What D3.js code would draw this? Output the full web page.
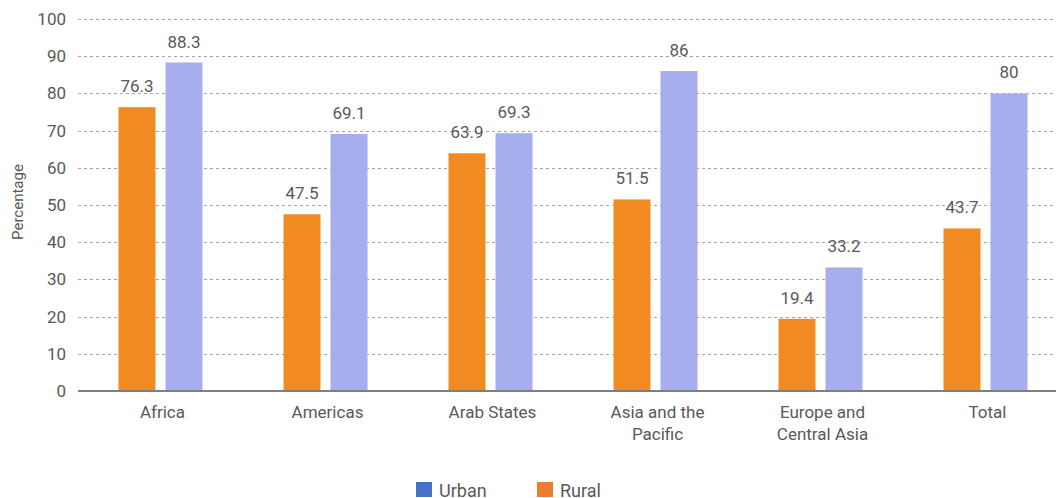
<!DOCTYPE html>
<html>
<head>
<meta charset="utf-8">
<script src="https://cdn.jsdelivr.net/npm/d3@7"></script>
<style>
  body { margin: 0; background: #fff; }
  svg text { font-family: Roboto, "Liberation Sans", sans-serif; fill: #595959; }
</style>
</head>
<body>
<svg id="chart" width="1056" height="498"></svg>
<script>
const categories = ["Africa", "Americas", "Arab States", "Asia and the Pacific", "Europe and Central Asia", "Total"];
const categoryLines = [["Africa"], ["Americas"], ["Arab States"], ["Asia and the", "Pacific"], ["Europe and", "Central Asia"], ["Total"]];
const rural = [76.3, 47.5, 63.9, 51.5, 19.4, 43.7];
const urban = [88.3, 69.1, 69.3, 86, 33.2, 80];
const yTicks = [0, 10, 20, 30, 40, 50, 60, 70, 80, 90, 100];
const seriesNames = ["Rural", "Urban"];
const barColors = { Rural: "#F28A22", Urban: "#A6AEEE" };
const legendItems = [
  { name: "Urban", color: "#4472C4" },
  { name: "Rural", color: "#ED7D31" }
];

var svg = d3.select("#chart");
var plotLeft = 78, plotRight = 1068, plotTop = 19, plotBottom = 391;

var x0 = d3.scaleBand()
  .domain(categories)
  .range([plotLeft, plotRight])
  .padding(0);

var x1 = d3.scaleBand()
  .domain(seriesNames)
  .range([(x0.bandwidth() - 84) / 2, (x0.bandwidth() + 84) / 2])
  .paddingInner(0.2128);

var y = d3.scaleLinear()
  .domain([0, 100])
  .range([plotBottom, plotTop]);

// gridlines
svg.append("g")
  .selectAll("line")
  .data(yTicks.filter(d => d > 0))
  .enter().append("line")
  .attr("x1", plotLeft)
  .attr("x2", 1056)
  .attr("y1", d => Math.round(y(d)) + 0.5)
  .attr("y2", d => Math.round(y(d)) + 0.5)
  .attr("stroke", "#A6A6A6")
  .attr("stroke-width", 1)
  .attr("stroke-dasharray", "3,3");

// y axis labels
var yAxis = svg.append("g")
  .attr("transform", "translate(" + plotLeft + ",0)")
  .call(d3.axisLeft(y).tickValues(yTicks).tickSize(0).tickPadding(12));
yAxis.select(".domain").remove();
yAxis.selectAll("text")
  .style("font-size", "17px")
  .style("font-family", "Roboto, sans-serif")
  .attr("fill", "#595959");

// bars
var rows = categories.map((c, i) => ({ category: c, Rural: rural[i], Urban: urban[i] }));

var groups = svg.append("g")
  .selectAll("g")
  .data(rows)
  .enter().append("g")
  .attr("transform", d => "translate(" + x0(d.category) + ",0)");

groups.selectAll("rect")
  .data(d => seriesNames.map(s => ({ key: s, value: d[s] })))
  .enter().append("rect")
  .attr("x", d => x1(d.key))
  .attr("y", d => y(d.value))
  .attr("width", x1.bandwidth())
  .attr("height", d => y(0) - y(d.value))
  .attr("fill", d => barColors[d.key]);

groups.selectAll("text.value")
  .data(d => seriesNames.map(s => ({ key: s, value: d[s] })))
  .enter().append("text")
  .attr("class", "value")
  .attr("x", d => x1(d.key) + x1.bandwidth() / 2)
  .attr("y", d => y(d.value) - 15)
  .attr("text-anchor", "middle")
  .style("font-size", "17px")
  .text(d => d.value);

// x axis baseline
svg.append("line")
  .attr("x1", plotLeft)
  .attr("x2", 1056)
  .attr("y1", plotBottom)
  .attr("y2", plotBottom)
  .attr("stroke", "#7F7F7F")
  .attr("stroke-width", 2);

// category labels
svg.append("g")
  .selectAll("text")
  .data(categories)
  .enter().append("text")
  .attr("x", d => x0(d) + x0.bandwidth() / 2 + 2)
  .attr("y", 418)
  .attr("text-anchor", "middle")
  .style("font-size", "17px")
  .each(function(d, i) {
    var t = d3.select(this);
    categoryLines[i].forEach(function(line, j) {
      t.append("tspan")
        .attr("x", t.attr("x"))
        .attr("dy", j === 0 ? 0 : 22)
        .text(line);
    });
  });

// y axis title
svg.append("text")
  .attr("transform", "translate(23,202) rotate(-90)")
  .attr("text-anchor", "middle")
  .style("font-size", "15px")
  .text("Percentage");

// legend
var legendX = [416, 537];
var legend = svg.append("g")
  .selectAll("g")
  .data(legendItems)
  .enter().append("g")
  .attr("transform", (d, i) => "translate(" + legendX[i] + ",482)");

legend.append("rect")
  .attr("width", 16)
  .attr("height", 15)
  .attr("fill", d => d.color);

legend.append("text")
  .attr("x", 23)
  .attr("y", 15)
  .style("font-size", "18px")
  .text(d => d.name);
</script>
</body>
</html>
